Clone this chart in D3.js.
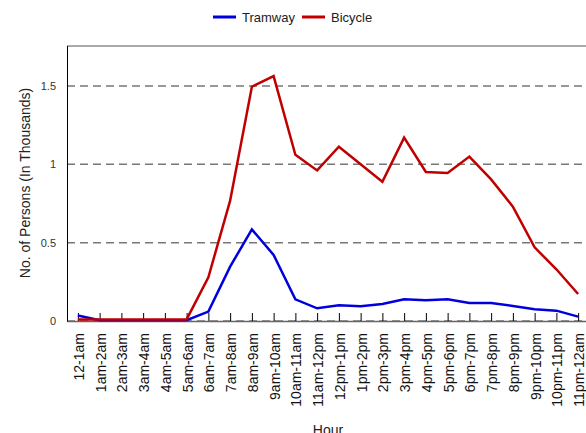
<!DOCTYPE html>
<html><head><meta charset="utf-8">
<script src="https://cdn.jsdelivr.net/npm/d3@7"></script>
<style>body{margin:0;background:#fff;}svg{display:block;font-family:"Liberation Sans",Arial,sans-serif;}</style>
</head><body><svg id="c" width="586" height="433"></svg>
<script>
const hours = ["12-1am","1am-2am","2am-3am","3am-4am","4am-5am","5am-6am","6am-7am","7am-8am","8am-9am","9am-10am","10am-11am","11am-12pm","12pm-1pm","1pm-2pm","2pm-3pm","3pm-4pm","4pm-5pm","5pm-6pm","6pm-7pm","7pm-8pm","8pm-9pm","9pm-10pm","10pm-11pm","11pm-12am"];
const tramway = [0.035,0.005,0.005,0.005,0.005,0.005,0.06,0.347,0.585,0.421,0.138,0.081,0.100,0.094,0.108,0.138,0.132,0.138,0.115,0.115,0.096,0.075,0.066,0.028];
const bicycle = [0.01,0.01,0.01,0.01,0.01,0.01,0.279,0.768,1.495,1.563,1.061,0.961,1.112,1.0,0.889,1.170,0.951,0.944,1.049,0.904,0.730,0.470,0.330,0.172];
const yTicks = [0,0.5,1,1.5];
const seriesNames = ["Tramway","Bicycle"];
const colors = ["#0000dd","#c00000"];

const svg = d3.select("#c");
const L=67, T=46, R=589, B=321;
const x = d3.scalePoint().domain(hours).range([L,R]).padding(0.5);
const y = d3.scaleLinear().domain([0,1.755]).range([B,T]);

// gridlines
svg.append("g").selectAll("line").data(yTicks).join("line")
  .attr("x1",L).attr("x2",R).attr("y1",d=>y(d)).attr("y2",d=>y(d))
  .attr("stroke","#777").attr("stroke-width",1.5).attr("stroke-dasharray","8,5");

// frame
svg.append("line").attr("x1",L).attr("x2",R).attr("y1",T).attr("y2",T).attr("stroke","#555").attr("stroke-width",1);
svg.append("line").attr("x1",L+0.5).attr("x2",L+0.5).attr("y1",T).attr("y2",B+1).attr("stroke","#000").attr("stroke-width",1);

// x axis ticks (inward)
const xa = d3.axisBottom(x).tickSize(-8).tickSizeOuter(0).tickFormat("");
const gx = svg.append("g").attr("transform",`translate(0,${B})`).call(xa);
gx.select(".domain").attr("stroke","#666").attr("stroke-width",1.5);
gx.selectAll(".tick line").attr("stroke","#000");

// x tick labels rotated
svg.append("g").selectAll("text").data(hours).join("text")
  .attr("transform",d=>`translate(${x(d)+6},333) rotate(-90)`)
  .attr("text-anchor","end").attr("font-size",14).attr("fill","#111").text(d=>d);

// y axis labels
const ya = d3.axisLeft(y).tickValues(yTicks).tickSize(0).tickFormat(d3.format(""));
const gy = svg.append("g").attr("transform",`translate(${L-8},0)`).call(ya);
gy.select(".domain").remove();
gy.selectAll("text").attr("font-size",11).attr("fill","#333").attr("font-family","Liberation Sans,Arial,sans-serif").attr("dy","0.32em");

// lines
const line = d3.line().x((d,i)=>x(hours[i])).y(d=>y(d));
[tramway,bicycle].forEach((s,k)=>{
  svg.append("path").datum(s).attr("d",line).attr("fill","none")
    .attr("stroke",colors[k]).attr("stroke-width",2.5).attr("stroke-linejoin","miter");
});

// axis titles
svg.append("text").attr("transform",`translate(30,${(T+B)/2 - 0.5}) rotate(-90)`)
  .attr("text-anchor","middle").attr("font-size",14).attr("fill","#222").text("No. of Persons (In Thousands)");
svg.append("text").attr("x",(L+R)/2).attr("y",435).attr("text-anchor","middle")
  .attr("font-size",14).attr("fill","#222").text("Hour");

// legend
const lg = svg.append("g");
const lx = [213,302];
seriesNames.forEach((n,k)=>{
  lg.append("line").attr("x1",lx[k]).attr("x2",lx[k]+23).attr("y1",17).attr("y2",17)
    .attr("stroke",colors[k]).attr("stroke-width",3);
  lg.append("text").attr("x",lx[k]+29).attr("y",21.5).attr("font-size",13).attr("fill","#222").text(n);
});
</script></body></html>
